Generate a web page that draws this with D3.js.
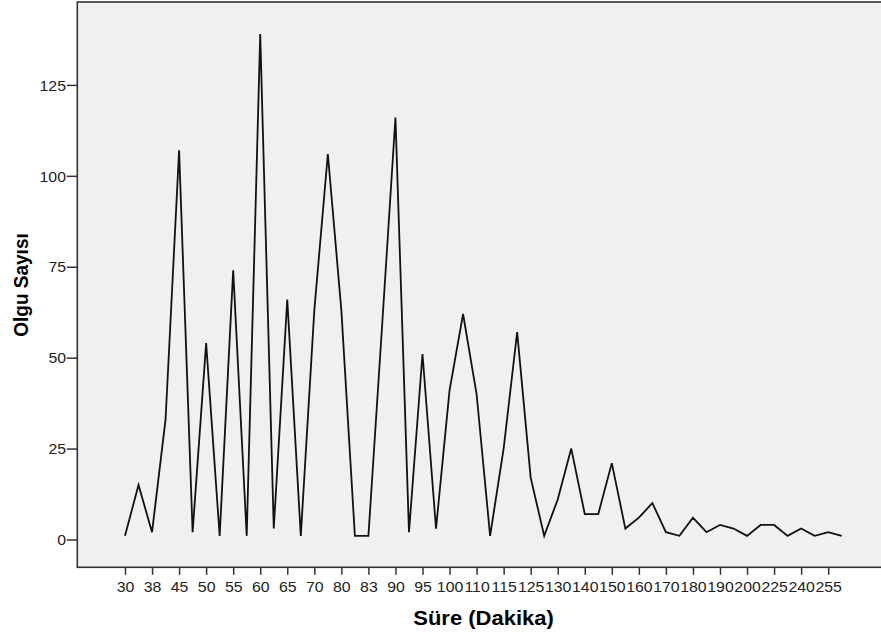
<!DOCTYPE html>
<html>
<head>
<meta charset="utf-8">
<script src="https://cdn.jsdelivr.net/npm/d3@7"></script>
<style>
  html, body { margin: 0; padding: 0; background: #ffffff; }
  svg { display: block; }
  text { font-family: "Liberation Sans", Arial, sans-serif; }
</style>
</head>
<body>
<svg id="chart" width="881" height="633"></svg>
<script>
// Süre (dakika) kategorileri
const categories = [
  "30","35","38","40","45","48","50","52","55","58",
  "60","62","65","68","70","75","80","82","83","85",
  "90","93","95","98","100","105","110","112","115","120",
  "125","127","130","135","140","145","150","155","160","165",
  "170","175","180","185","190","195","200","210","225","230",
  "240","250","255","270"
];

// Olgu sayıları
const counts = [
  1, 15, 2, 33, 107, 2, 54, 1, 74, 1,
  139, 3, 66, 1, 63, 106, 63, 1, 1, 58,
  116, 2, 51, 3, 41, 62, 40, 1, 25, 57,
  17, 1, 11, 25, 7, 7, 21, 3, 6, 10,
  2, 1, 6, 2, 4, 3, 1, 4, 4, 1,
  3, 1, 2, 1
];

// Etiketli eksen işaretleri (her ikinci kategori)
const xTickLabels = categories.filter((d, i) => i % 2 === 0);
const yTickValues = [0, 25, 50, 75, 100, 125];

const xTitle = "Süre (Dakika)";
const yTitle = "Olgu Sayısı";

const svg = d3.select("#chart");

const frame = { left: 77.3, right: 895, top: 2, bottom: 567.3 };
const stretch = 1.1;

const x = d3.scalePoint()
  .domain(categories)
  .range([125, 841.7]);

const y = d3.scaleLinear()
  .domain([-7.65, 147.8])
  .range([frame.bottom, frame.top]);

// Plot background
svg.append("rect")
  .attr("x", frame.left)
  .attr("y", frame.top)
  .attr("width", frame.right - frame.left)
  .attr("height", frame.bottom - frame.top)
  .attr("fill", "#f0f0f0");

// Data line
const line = d3.line()
  .x((d, i) => x(categories[i]))
  .y(d => y(d));

svg.append("path")
  .datum(counts)
  .attr("fill", "none")
  .attr("stroke", "#111")
  .attr("stroke-width", 1.8)
  .attr("stroke-linejoin", "miter")
  .attr("d", line);

// Frame
svg.append("rect")
  .attr("x", frame.left)
  .attr("y", frame.top)
  .attr("width", frame.right - frame.left)
  .attr("height", frame.bottom - frame.top)
  .attr("fill", "none")
  .attr("stroke", "#333")
  .attr("stroke-width", 1.6);

// X axis
const xAxis = svg.append("g")
  .attr("transform", `translate(0,${frame.bottom})`)
  .call(d3.axisBottom(x).tickValues(xTickLabels).tickSize(7.5).tickSizeOuter(0));
xAxis.select(".domain").remove();
xAxis.selectAll(".tick line").attr("stroke", "#333").attr("stroke-width", 1.5);
xAxis.selectAll(".tick text")
  .attr("y", 24.5)
  .attr("dy", null)
  .attr("fill", "#222")
  .style("font-size", "14.4px")
  .attr("transform", `scale(${stretch},1)`);

// Y axis
const yAxis = svg.append("g")
  .attr("transform", `translate(${frame.left},0)`)
  .call(d3.axisLeft(y).tickValues(yTickValues).tickSize(10.5).tickSizeOuter(0));
yAxis.select(".domain").remove();
yAxis.selectAll(".tick line").attr("stroke", "#333").attr("stroke-width", 1.5);
yAxis.selectAll(".tick text")
  .attr("x", -10.3)
  .attr("dy", "0.36em")
  .attr("fill", "#222")
  .style("font-size", "14.4px")
  .attr("transform", `scale(${stretch},1)`);

// Axis titles
svg.append("text")
  .attr("transform", `translate(483.5,625) scale(${stretch},1)`)
  .attr("text-anchor", "middle")
  .style("font-size", "20px")
  .style("font-weight", "bold")
  .attr("fill", "#000")
  .text(xTitle);

svg.append("text")
  .attr("transform", `translate(28.3,285) scale(${stretch},1) rotate(-90)`)
  .attr("text-anchor", "middle")
  .style("font-size", "19px")
  .style("font-weight", "bold")
  .attr("fill", "#000")
  .text(yTitle);
</script>
</body>
</html>
